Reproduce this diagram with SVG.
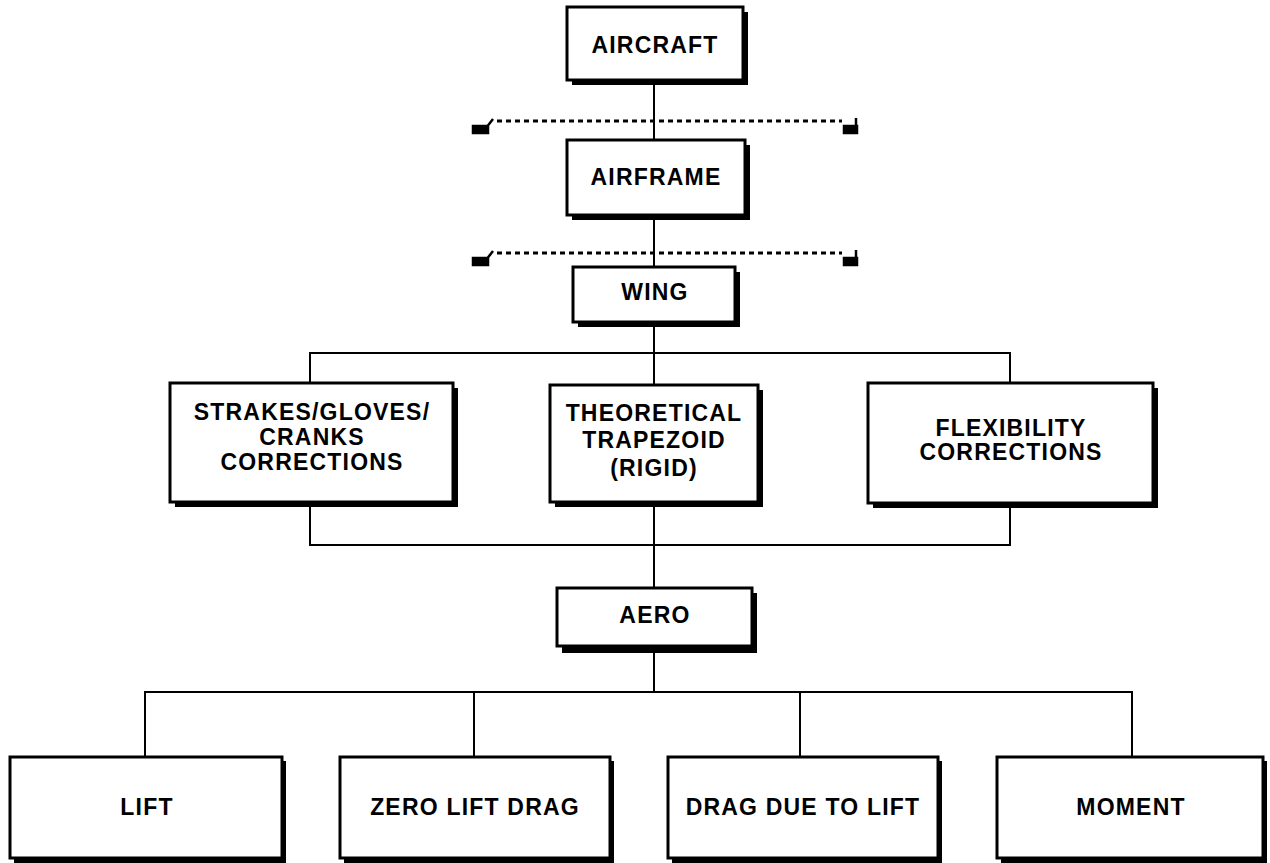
<svg xmlns="http://www.w3.org/2000/svg" width="1270" height="863" viewBox="0 0 1270 863">
<defs>
<style>
.sh{fill:#000}
.bx{fill:#fff;stroke:#000;stroke-width:3}
.t{font-family:"Liberation Sans",Arial,sans-serif;font-weight:bold;font-size:23px;letter-spacing:1.2px;text-anchor:middle;fill:#000}
.c{fill:none;stroke:#000;stroke-width:2}
.d{fill:none;stroke:#000;stroke-width:3;stroke-dasharray:5 4}
.m{fill:#000;stroke:#000;stroke-width:2.5}
</style>
</defs>
<rect width="1270" height="863" fill="#fff"/>
<g id="connectors">
<line class="c" x1="654" y1="84" x2="654" y2="140"/>
<line class="c" x1="654" y1="220" x2="654" y2="267"/>
<line class="c" x1="654" y1="327" x2="654" y2="385"/>
<polyline class="c" points="310,383 310,353 1010,353 1010,383"/>
<polyline class="c" points="310,507 310,545 1010,545 1010,507"/>
<line class="c" x1="654" y1="507" x2="654" y2="588"/>
<line class="c" x1="654" y1="653" x2="654" y2="692"/>
<polyline class="c" points="145,757 145,692 1132,692 1132,757"/>
<line class="c" x1="474" y1="692" x2="474" y2="757"/>
<line class="c" x1="800" y1="692" x2="800" y2="757"/>
</g>
<g id="separator1">
<line class="d" x1="497" y1="121" x2="842" y2="121"/>
<path class="m" d="M473,126 H488 V133 H473 Z M486,128 L493,119"/>
<path class="m" d="M844,126 H857 V133 H844 Z M856,118 V133"/>
</g>
<g id="separator2">
<line class="d" x1="497" y1="253" x2="842" y2="253"/>
<path class="m" d="M473,258 H488 V265 H473 Z M486,260 L493,251"/>
<path class="m" d="M844,258 H857 V265 H844 Z M856,250 V265"/>
</g>
<g id="aircraft">
<rect class="sh" x="572" y="12" width="176" height="73"/>
<rect class="bx" x="567" y="7" width="176" height="73"/>
<text class="t" x="655" y="53">AIRCRAFT</text>
</g>
<g id="airframe">
<rect class="sh" x="572" y="145" width="178" height="75"/>
<rect class="bx" x="567" y="140" width="178" height="75"/>
<text class="t" x="656" y="185">AIRFRAME</text>
</g>
<g id="wing">
<rect class="sh" x="578" y="272" width="162" height="55"/>
<rect class="bx" x="573" y="267" width="162" height="55"/>
<text class="t" x="655" y="300">WING</text>
</g>
<g id="strakes">
<rect class="sh" x="175" y="388" width="283" height="119"/>
<rect class="bx" x="170" y="383" width="283" height="119"/>
<text class="t" x="312" y="420">STRAKES/GLOVES/</text>
<text class="t" x="312" y="445">CRANKS</text>
<text class="t" x="312" y="470">CORRECTIONS</text>
</g>
<g id="theoretical">
<rect class="sh" x="555" y="390" width="208" height="117"/>
<rect class="bx" x="550" y="385" width="208" height="117"/>
<text class="t" x="654" y="421">THEORETICAL</text>
<text class="t" x="654" y="448">TRAPEZOID</text>
<text class="t" x="654" y="476">(RIGID)</text>
</g>
<g id="flexibility">
<rect class="sh" x="873" y="388" width="285" height="120"/>
<rect class="bx" x="868" y="383" width="285" height="120"/>
<text class="t" x="1011" y="436">FLEXIBILITY</text>
<text class="t" x="1011" y="460">CORRECTIONS</text>
</g>
<g id="aero">
<rect class="sh" x="562" y="593" width="195" height="60"/>
<rect class="bx" x="557" y="588" width="195" height="58"/>
<text class="t" x="655" y="623">AERO</text>
</g>
<g id="lift">
<rect class="sh" x="14" y="761" width="272" height="110"/>
<rect class="bx" x="10" y="757" width="272" height="101"/>
<text class="t" x="147" y="815">LIFT</text>
</g>
<g id="zero-lift-drag">
<rect class="sh" x="344" y="761" width="270" height="110"/>
<rect class="bx" x="340" y="757" width="270" height="101"/>
<text class="t" x="475" y="815">ZERO LIFT DRAG</text>
</g>
<g id="drag-due-to-lift">
<rect class="sh" x="672" y="761" width="270" height="110"/>
<rect class="bx" x="668" y="757" width="270" height="101"/>
<text class="t" x="803" y="815">DRAG DUE TO LIFT</text>
</g>
<g id="moment">
<rect class="sh" x="1001" y="761" width="266" height="110"/>
<rect class="bx" x="997" y="757" width="266" height="101"/>
<text class="t" x="1131" y="815">MOMENT</text>
</g>
</svg>
